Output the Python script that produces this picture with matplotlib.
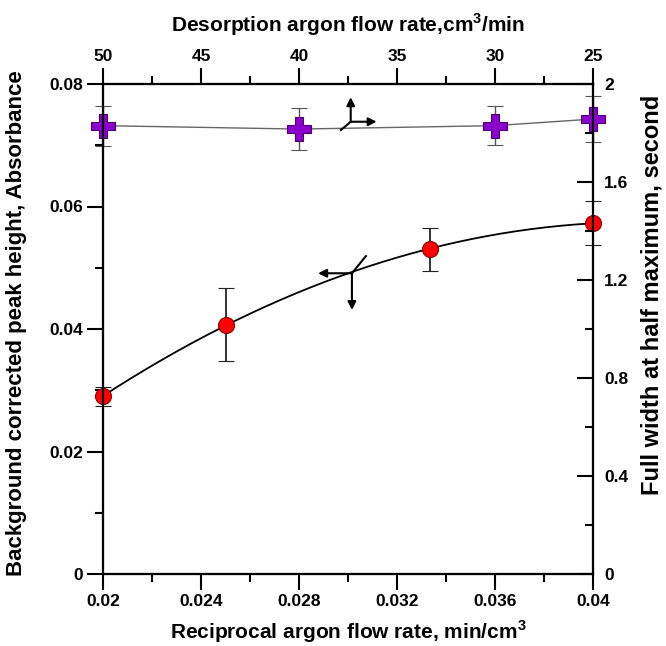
import numpy as np
import matplotlib
matplotlib.use("Agg")
import matplotlib.pyplot as plt

plt.rcParams['font.family'] = ['Liberation Sans', 'DejaVu Sans']
plt.rcParams['font.weight'] = 'bold'
plt.rcParams['mathtext.fontset'] = 'custom'
plt.rcParams['mathtext.rm'] = 'Liberation Sans:bold'
plt.rcParams['mathtext.bf'] = 'Liberation Sans:bold'

# ---- data ----
recip_x = [0.02, 0.025, 1/30, 0.04]
peak_height = [0.0290, 0.0407, 0.0530, 0.0573]
peak_err = [0.0015, 0.0060, 0.0035, 0.0036]

fwhm_x = [0.02, 0.028, 0.036, 0.04]
fwhm = [1.830, 1.816, 1.830, 1.857]
fwhm_err = [0.082, 0.086, 0.080, 0.093]

bottom_ticks = [0.02, 0.024, 0.028, 0.032, 0.036, 0.04]
bottom_labels = ["0.02", "0.024", "0.028", "0.032", "0.036", "0.04"]
left_ticks = [0, 0.02, 0.04, 0.06, 0.08]
left_labels = ["0", "0.02", "0.04", "0.06", "0.08"]
right_ticks = [0, 0.4, 0.8, 1.2, 1.6, 2.0]
right_labels = ["0", "0.4", "0.8", "1.2", "1.6", "2"]
top_ticks = [50, 45, 40, 35, 30, 25]
top_labels = ["50", "45", "40", "35", "30", "25"]

fig = plt.figure(figsize=(6.66, 6.46), dpi=100)
ax = fig.add_axes([103/666, 1-574/646, 490/666, 490/646])
ax2 = ax.twinx()
ax3 = ax.twiny()

lw = 1.5
for a in (ax, ax2, ax3):
    for s in a.spines.values():
        s.set_linewidth(lw)
    a.patch.set_visible(False)

# red series + quadratic fit
coef = np.polyfit(recip_x, peak_height, 2)
xf = np.linspace(0.02, 0.04, 200)
ax.plot(xf, np.polyval(coef, xf), color='black', lw=1.3, zorder=3)
ax.errorbar(recip_x, peak_height, yerr=peak_err, fmt='o', color='black',
            ecolor='#222222', elinewidth=1.3, capsize=6, capthick=1.3,
            markersize=11.5, markerfacecolor='#FF0000', markeredgecolor='#880000',
            markeredgewidth=0.8, zorder=5, clip_on=False)

# purple series
ax2.plot(fwhm_x, fwhm, color='#666666', lw=1.0, zorder=3)
ax2.errorbar(fwhm_x, fwhm, yerr=fwhm_err, fmt='P', color='#555555',
             ecolor='#555555', elinewidth=1.0, capsize=5.5, capthick=1.0,
             markersize=17.5, markerfacecolor='#8B00CC', markeredgecolor='#4B0070',
             markeredgewidth=0.8, zorder=5, clip_on=False)

ax.set_xlim(0.02, 0.04)
ax.set_ylim(0, 0.08)
ax2.set_ylim(0, 2)
ax3.set_xlim(50, 25)

tf = dict(fontsize=12.5, fontweight='bold')
ax.set_xticks(bottom_ticks)
ax.set_xticklabels(bottom_labels, **tf)
ax.set_xticks(np.arange(0.022, 0.04, 0.004), minor=True)
ax.set_yticks(left_ticks)
ax.set_yticklabels(left_labels, **tf)
ax.set_yticks(np.arange(0.01, 0.08, 0.02), minor=True)
ax2.set_yticks(right_ticks)
ax2.set_yticklabels(right_labels, **tf)
ax2.set_yticks(np.arange(0.2, 2.0, 0.4), minor=True)
ax3.set_xticks(top_ticks)
ax3.set_xticklabels(top_labels, **tf)
ax3.set_xticks(np.arange(47.5, 25, -5), minor=True)

ax.tick_params(axis='x', which='major', direction='out', length=11.5, width=lw, pad=3)
ax.tick_params(axis='x', which='minor', direction='out', length=5.8, width=lw)
ax.tick_params(axis='y', which='major', direction='out', length=11.5, width=lw, pad=3)
ax.tick_params(axis='y', which='minor', direction='out', length=5.8, width=lw)
ax2.tick_params(axis='y', which='major', direction='in', length=11.5, width=lw, pad=8)
ax2.tick_params(axis='y', which='minor', direction='in', length=5.8, width=lw)
ax3.tick_params(axis='x', which='major', direction='out', length=11.5, width=lw, pad=3)
ax3.tick_params(axis='x', which='minor', direction='out', length=5.8, width=lw)

lf = dict(fontsize=15, fontweight='bold', ha='center', va='center')
ax.set_xlabel("Reciprocal argon flow rate, min/cm$^\\mathbf{3}$", **lf)
ax.xaxis.set_label_coords(0.5, -0.117)
ax.set_ylabel("Background corrected peak height, Absorbance",
              fontsize=16, fontweight='bold', ha='center', va='center')
ax.yaxis.set_label_coords(-0.176, 0.512)
ax2.set_ylabel("Full width at half maximum, second",
               fontsize=17, fontweight='bold', ha='center', va='center')
ax2.yaxis.set_label_coords(1.12, 0.57)
ax3.set_xlabel("Desorption argon flow rate,cm$^\\mathbf{3}$/min", **lf)
ax3.xaxis.set_label_coords(0.5, 1.122)

# direction arrows (annotations)
ap = dict(arrowstyle='-|>', color='black', lw=1.5, mutation_scale=12, shrinkA=0, shrinkB=0)
c1 = (0.03016, 0.0491)
ax.annotate('', xy=(0.02878, c1[1]), xytext=c1, arrowprops=ap, zorder=6)
ax.annotate('', xy=(c1[0], 0.0431), xytext=c1, arrowprops=ap, zorder=6)
ax.plot([c1[0], 0.03073], [c1[1], 0.0519], color='black', lw=1.5, zorder=6)

c2 = (0.03011, 1.846)
ax2.annotate('', xy=(0.03117, c2[1]), xytext=c2, arrowprops=ap, zorder=6)
ax2.annotate('', xy=(c2[0], 1.946), xytext=c2, arrowprops=ap, zorder=6)
ax2.plot([0.02971, c2[0]], [1.812, c2[1]], color='black', lw=1.5, zorder=6)

fig.savefig("out.png", dpi=100)
